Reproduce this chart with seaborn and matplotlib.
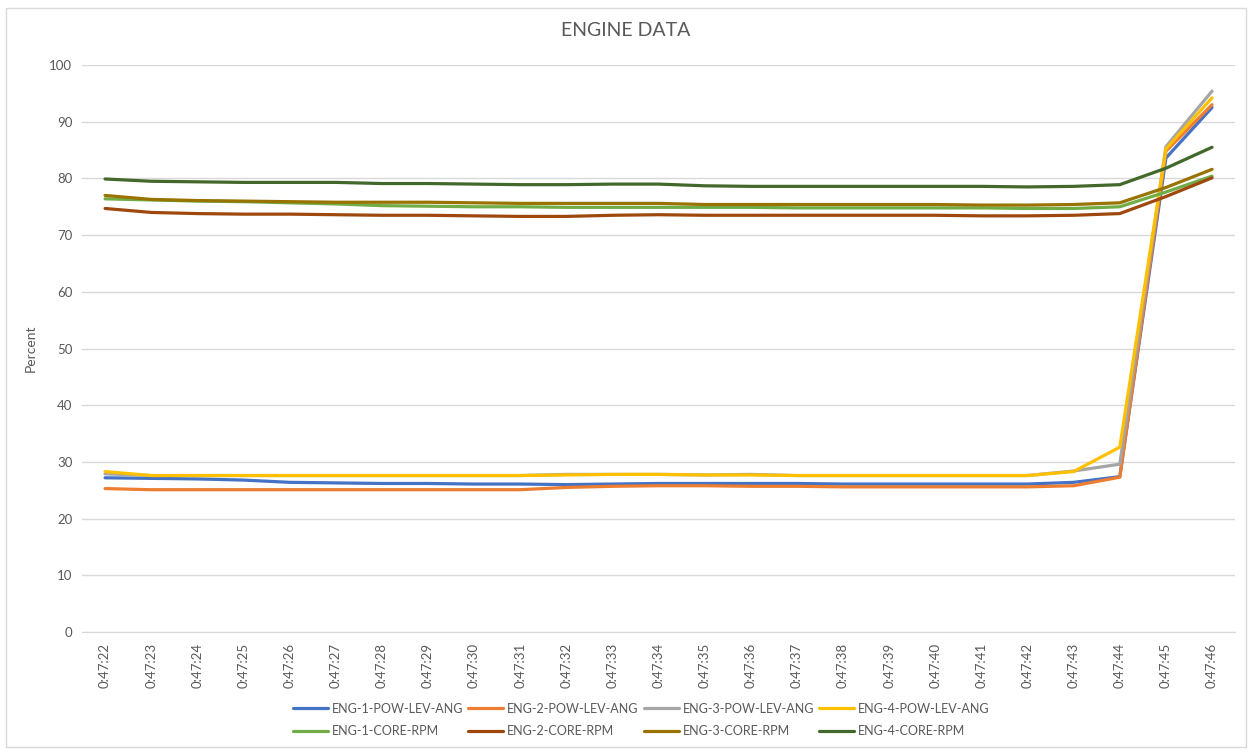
import pandas as pd
import seaborn as sns
import matplotlib.pyplot as plt
from matplotlib.patches import Rectangle

# x축 시간 라벨
times = ['0:47:%02d' % s for s in range(22, 47)]

# 각 시리즈 값
eng1_pow = [27.2, 27.1, 27.0, 26.8, 26.4, 26.3, 26.2, 26.2, 26.1, 26.1, 26.0, 26.1, 26.2,
            26.2, 26.2, 26.2, 26.1, 26.1, 26.1, 26.1, 26.1, 26.4, 27.4, 83.6, 92.5]
eng2_pow = [25.3, 25.1, 25.1, 25.1, 25.1, 25.1, 25.1, 25.1, 25.1, 25.1, 25.5, 25.7, 25.8,
            25.8, 25.7, 25.7, 25.6, 25.6, 25.6, 25.6, 25.6, 25.8, 27.3, 84.8, 93.0]
eng3_pow = [27.9, 27.6, 27.6, 27.6, 27.6, 27.6, 27.6, 27.6, 27.6, 27.6, 27.8, 27.8, 27.8,
            27.7, 27.8, 27.6, 27.6, 27.6, 27.6, 27.6, 27.6, 28.4, 29.6, 85.6, 95.4]
eng4_pow = [28.3, 27.6, 27.6, 27.6, 27.6, 27.6, 27.6, 27.6, 27.6, 27.6, 27.7, 27.8, 27.8,
            27.7, 27.7, 27.6, 27.6, 27.6, 27.6, 27.6, 27.6, 28.3, 32.6, 85.2, 94.2]
eng1_rpm = [76.4, 76.2, 76.0, 75.9, 75.7, 75.5, 75.2, 75.1, 75.0, 75.0, 74.9, 74.9, 74.9,
            74.9, 74.9, 74.8, 74.8, 74.8, 74.8, 74.8, 74.7, 74.7, 75.0, 77.6, 80.4]
eng2_rpm = [74.7, 74.0, 73.8, 73.7, 73.7, 73.6, 73.5, 73.5, 73.4, 73.3, 73.3, 73.5, 73.6,
            73.5, 73.5, 73.5, 73.5, 73.5, 73.5, 73.4, 73.4, 73.5, 73.8, 76.8, 80.1]
eng3_rpm = [77.0, 76.3, 76.1, 76.0, 75.9, 75.8, 75.8, 75.8, 75.7, 75.6, 75.6, 75.6, 75.6,
            75.4, 75.4, 75.4, 75.4, 75.4, 75.4, 75.3, 75.3, 75.4, 75.7, 78.4, 81.6]
eng4_rpm = [79.9, 79.5, 79.4, 79.3, 79.3, 79.3, 79.1, 79.1, 79.0, 78.9, 78.9, 79.0, 79.0,
            78.7, 78.6, 78.6, 78.6, 78.6, 78.6, 78.6, 78.5, 78.6, 78.9, 81.8, 85.5]

series = {
    'ENG-1-POW-LEV-ANG': eng1_pow,
    'ENG-2-POW-LEV-ANG': eng2_pow,
    'ENG-3-POW-LEV-ANG': eng3_pow,
    'ENG-4-POW-LEV-ANG': eng4_pow,
    'ENG-1-CORE-RPM': eng1_rpm,
    'ENG-2-CORE-RPM': eng2_rpm,
    'ENG-3-CORE-RPM': eng3_rpm,
    'ENG-4-CORE-RPM': eng4_rpm,
}

color_map = {
    'ENG-1-POW-LEV-ANG': '#4472C4',
    'ENG-2-POW-LEV-ANG': '#ED7D31',
    'ENG-3-POW-LEV-ANG': '#A5A5A5',
    'ENG-4-POW-LEV-ANG': '#FFC000',
    'ENG-1-CORE-RPM': '#70AD47',
    'ENG-2-CORE-RPM': '#9E480E',
    'ENG-3-CORE-RPM': '#997300',
    'ENG-4-CORE-RPM': '#43682B',
}

# long-form 데이터프레임
rows = []
for name, vals in series.items():
    for t, v in zip(times, vals):
        rows.append({'time': t, 'value': v, 'series': name})
data = pd.DataFrame(rows)

sns.set_style('white')
plt.rcParams['font.family'] = ['Lato', 'DejaVu Sans']

fig = plt.figure(figsize=(12.52, 7.5), dpi=100)
ax = fig.add_axes([0.0655, 0.1573, 0.921, 0.756])

sns.lineplot(data=data, x='time', y='value', hue='series', palette=color_map,
             hue_order=list(series.keys()), linewidth=2.3, ax=ax, sort=False)

ax.set_xlim(-0.5, len(times) - 0.5)
ax.set_ylim(0, 100)
ax.set_yticks(range(0, 101, 10))
ax.yaxis.grid(True, color='#d9d9d9', linewidth=1)
ax.set_axisbelow(True)
for side in ['top', 'right', 'left']:
    ax.spines[side].set_visible(False)
ax.spines['bottom'].set_color('#d9d9d9')
ax.tick_params(axis='both', colors='#595959', labelsize=9.5, length=0)
ax.tick_params(axis='x', rotation=90, pad=8)
ax.tick_params(axis='y', pad=7)

ax.set_xlabel('')
ax.set_ylabel('Percent', color='#595959', fontsize=10)
ax.yaxis.set_label_coords(-0.039, 0.5)
fig.text(0.5, 0.96, 'ENGINE DATA', ha='center', va='center', fontsize=14, color='#595959')

# 범례를 행 단위 순서로 배치
handles, labels = ax.get_legend_handles_labels()
order = [0, 4, 1, 5, 2, 6, 3, 7]
ax.legend([handles[i] for i in order], [labels[i] for i in order],
          loc='center', bbox_to_anchor=(0.485, -0.155), ncol=4, frameon=False,
          fontsize=9, handlelength=2.8, handletextpad=0.3, columnspacing=0.4,
          labelcolor='#595959', labelspacing=0.85)

# 바깥 테두리
fig.patches.append(Rectangle((0.005, 0.004), 0.99, 0.986, transform=fig.transFigure,
                             fill=False, edgecolor='#d9d9d9', linewidth=1))

fig.savefig('out.png', dpi=100)
